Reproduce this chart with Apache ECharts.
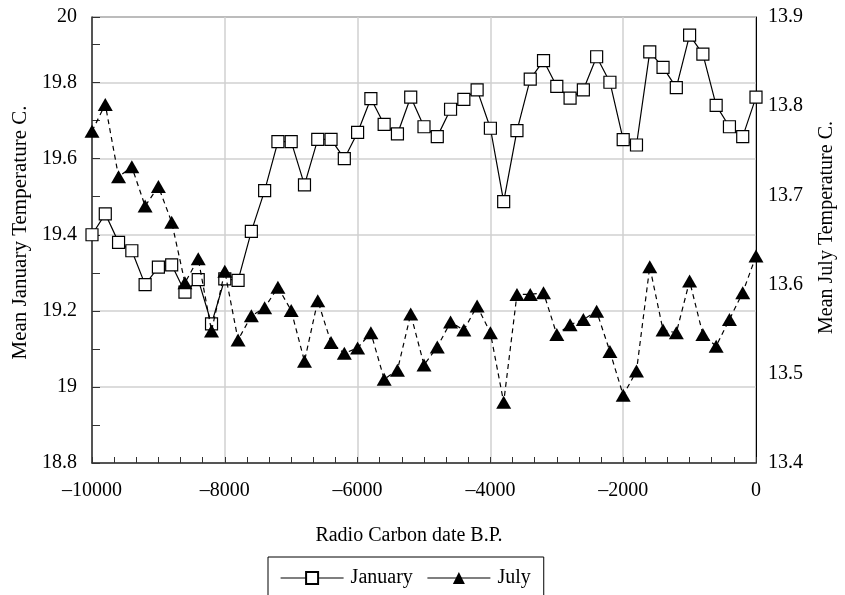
<!DOCTYPE html>
<html>
<head>
<meta charset="utf-8">
<script src="https://cdn.jsdelivr.net/npm/echarts@6/dist/echarts.min.js"></script>
<style>html,body{margin:0;padding:0;background:#fff;}#c{width:845px;height:595px;}</style>
</head>
<body>
<div id="c"></div>
<script>
const years = [-10000,-9800,-9600,-9400,-9200,-9000,-8800,-8600,-8400,-8200,-8000,-7800,-7600,-7400,-7200,-7000,-6800,-6600,-6400,-6200,-6000,-5800,-5600,-5400,-5200,-5000,-4800,-4600,-4400,-4200,-4000,-3800,-3600,-3400,-3200,-3000,-2800,-2600,-2400,-2200,-2000,-1800,-1600,-1400,-1200,-1000,-800,-600,-400,-200,0];
const january = [19.40,19.455,19.38,19.358,19.269,19.315,19.321,19.249,19.282,19.166,19.284,19.28,19.409,19.516,19.645,19.645,19.531,19.651,19.651,19.60,19.669,19.758,19.69,19.665,19.762,19.684,19.658,19.73,19.756,19.781,19.68,19.487,19.674,19.809,19.858,19.79,19.759,19.781,19.868,19.801,19.65,19.636,19.881,19.84,19.787,19.925,19.875,19.74,19.684,19.658,19.762];
const july = [13.772,13.802,13.721,13.732,13.688,13.710,13.670,13.602,13.629,13.548,13.615,13.538,13.565,13.574,13.597,13.571,13.514,13.582,13.535,13.523,13.529,13.546,13.494,13.504,13.567,13.510,13.530,13.558,13.549,13.576,13.546,13.468,13.589,13.589,13.591,13.544,13.555,13.561,13.570,13.525,13.476,13.503,13.620,13.549,13.546,13.604,13.544,13.531,13.561,13.591,13.632];
const seriesNames = ['January','July'];
const xTitle = 'Radio Carbon date B.P.';
const leftTitle = 'Mean January Temperature C.';
const rightTitle = 'Mean July Temperature C.';

const FONT = 'Liberation Serif';
const chart = echarts.init(document.getElementById('c'), null, {renderer:'canvas'});
const option = {
  animation: false,
  backgroundColor: '#fff',
  textStyle: {fontFamily: FONT, color: '#000'},
  grid: {left: 92, right: 85, top: 17, bottom: 132, show: true, borderColor: '#000', borderWidth: 1, backgroundColor: 'transparent'},
  legend: {
    data: seriesNames,
    left: 268, top: 557,
    padding: [11, 13, 16, 12],
    itemGap: 14, itemWidth: 63, itemHeight: 15,
    borderColor: '#000', borderWidth: 1, backgroundColor: '#fff',
    textStyle: {fontFamily: FONT, fontSize: 20, color: '#000', padding: [0, 0, 0, 2]},
    lineStyle: {type: 'solid', color: '#000', width: 1.2}
  },
  xAxis: {
    type: 'value', min: -10000, max: 0, interval: 2000,
    name: xTitle, nameLocation: 'middle', nameGap: 63,
    nameTextStyle: {fontFamily: FONT, fontSize: 20, color: '#000', padding: [0, 30, 0, 0]},
    axisLine: {onZero: false, lineStyle: {color: '#333', width: 1.5}},
    axisTick: {show: true, inside: true, length: 6, lineStyle: {color: '#333'}},
    minorTick: {show: true, splitNumber: 6, length: 6, lineStyle: {color: '#333'}},
    axisLabel: {fontFamily: FONT, fontSize: 20, color: '#000', margin: 18,
      formatter: v => v < 0 ? '\u2013' + Math.abs(v) : String(v)},
    splitLine: {show: true, lineStyle: {color: '#d0d0d0', width: 1.5}}
  },
  yAxis: [{
    type: 'value', min: 18.8, max: 19.9725, interval: 0.2, position: 'left',
    name: leftTitle, nameLocation: 'middle', nameGap: 57,
    nameTextStyle: {fontFamily: FONT, fontSize: 21, color: '#000', padding: [0, 0, 0, 15]},
    axisLine: {show: true, onZero: false, lineStyle: {color: '#333', width: 1.5}},
    axisTick: {show: true, inside: true, length: 8, lineStyle: {color: '#333'}},
    minorTick: {show: true, splitNumber: 2, length: 8, lineStyle: {color: '#333'}},
    axisLabel: {fontFamily: FONT, fontSize: 20, color: '#000', margin: 15, showMaxLabel: true,
      formatter: v => String(Math.round(v * 10) / 10)},
    splitLine: {show: true, lineStyle: {color: '#d0d0d0', width: 1.5}}
  }, {
    type: 'value', min: 13.4, max: 13.9, interval: 0.1, position: 'right',
    name: rightTitle, nameLocation: 'middle', nameGap: 61,
    nameTextStyle: {fontFamily: FONT, fontSize: 20, color: '#000', padding: [0, 0, 0, 25]},
    axisLine: {show: true, onZero: false, lineStyle: {color: '#000', width: 1}},
    axisTick: {show: false},
    minorTick: {show: false},
    axisLabel: {fontFamily: FONT, fontSize: 20, color: '#000', margin: 12, padding: [0, 0, 12, 0],
      formatter: v => v.toFixed(1)},
    splitLine: {show: false},
    minorSplitLine: {show: false}
  }],
  series: [{
    name: seriesNames[0], type: 'line', yAxisIndex: 0,
    data: years.map((y, i) => [y, january[i]]),
    symbol: 'rect', symbolSize: 12,
    lineStyle: {color: '#000', width: 1.2, type: 'solid'},
    itemStyle: {color: '#fff', borderColor: '#000', borderWidth: 1.2},
    z: 3
  }, {
    name: seriesNames[1], type: 'line', yAxisIndex: 1,
    data: years.map((y, i) => [y, july[i]]),
    symbol: 'triangle', symbolSize: [15, 13],
    lineStyle: {color: '#000', width: 1.2, type: [5, 4]},
    itemStyle: {color: '#000', borderColor: '#000', borderWidth: 0},
    z: 4
  }]
};
chart.setOption(option);
</script>
</body>
</html>
